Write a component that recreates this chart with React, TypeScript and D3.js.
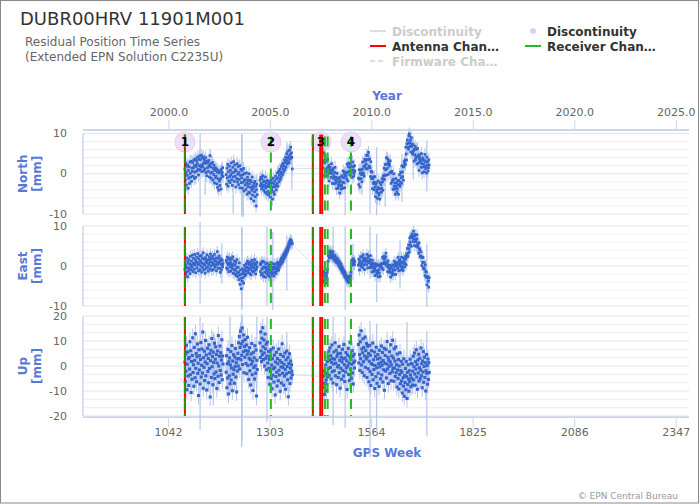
import * as d3 from 'd3'

const W = 700
const H = 504

// GPS week of the first value in each data block (blocks are weekly values)
const blockStart = [1084, 1190, 1277, 1439, 1530]

// North residuals [mm]
const north1 = [
  1.2, -1.5, 2.6, 0.3, -2.8, 1.9, -0.4, 2.2, -3.6, 0.8,
  -1.1, 1.7, -2.4, 2.9, 0.1, -0.8, 3.1, -1.9, 1.4, 0.6,
  2.8, -0.6, 1.5, 3.4, -1.2, 2.1, 0.4, 3.7, -0.9, 1.8,
  3.2, 0.7, 2.5, 4.1, 1.1, -0.3, 3.6, 2.0, 4.4, 0.9,
  3.5, 1.6, 4.6, 2.2, 0.5, 3.9, 1.8, 4.2, 2.6, 0.8,
  3.4, 1.2, 2.8, 4.0, 0.3, 2.6, -0.5, 3.1, 1.5, 2.9,
  0.6, 3.3, 1.9, -0.8, 2.4, 4.5, 0.2, 1.7, -1.1, 2.6,
  0.4, 2.8, -1.6, 1.3, -0.2, 2.1, -2.3, 0.8, 1.5, -1.0,
  -0.6, 1.2, -2.5, 0.4, -3.4, 0.9, -1.3, -4.1, 0.2, -1.8,
  -2.9, 0.6, -1.2, -3.8, 1.1, -0.4, 0.3, 1.5, -0.7,
]
const north2 = [
  -0.2, -2.6, 1.4, -1.0, 2.3, -3.1, 0.5, -1.8, 1.9, -0.7,
  -2.2, 0.9, -0.3, 2.7, -1.5, 0.2, -2.9, 1.6, -0.8, 3.0,
  0.4, -1.9, 2.2, -0.6, 1.0, -3.3, 0.7, -1.2, 2.5, -2.0,
  -0.1, 1.8, -2.7, 0.3, -1.4, 2.0, -3.5, -0.4, 1.1, -2.2,
  -1.0, 0.8, -3.6, -0.2, -2.1, 1.3, -4.3, -1.5, 0.1, -2.8,
  -1.6, -3.9, 0.2, -2.4, -5.1, -0.9, -3.2, -1.7, -4.6, 0.0,
  -2.5, -4.8, -1.6, -3.4, -6.2, -2.0, -4.1, -0.8, -5.3, -3.0,
  -3.6, -6.8, -2.4, -4.5, -1.9, -5.7, -3.1, -8.0, -4.0, -2.6,
  -5.2,
]
const north3 = [
  -1.6, -3.0, -0.9, -2.4, -3.7, -1.2, -2.8, -0.5, -3.3, -2.0,
  -4.1, -1.8, -2.9, -4.6, -0.8, -3.5, -2.2, -5.0, -3.1, -1.7,
  -4.4, -2.6, -5.3, -3.2, -1.9, -4.7, -2.4, -5.8, -3.0, -1.5,
  -4.0, -2.2, -6.3, -3.3, -1.1, -4.5, -2.5, -5.1, -1.8, -3.2,
  -0.6, -2.9, -4.0, -1.3, -2.4, 0.2, -3.1, -1.0, 0.6, -2.0,
  -0.3, 1.1, -1.5, 0.4, -0.9, 1.8, 0.0, 2.3, -0.2, 1.2,
  2.6, 0.5, 1.9, 3.4, 1.0, 2.8, 4.1, 1.6, 3.3, 5.0,
  2.4, 3.9, 5.6, 3.0, 4.4, 2.7, 5.9, 3.6, 4.8, 6.6,
  3.9, 5.2, 4.1, 1.2,
]
const north4 = [
  1.4, 3.3, 5.2, -0.5, 2.7, 4.6, 3.6, 0.4, 1.0, 3.1,
  1.3, -0.5, 3.6, 1.6, 0.1, 2.1, -1.8, 1.0, 1.6, 0.3,
  0.9, -0.9, 2.5, 0.0, -2.4, 0.8, 1.3, -1.1, -0.5, -2.5,
  0.3, 1.6, -1.6, -2.3, -0.9, -3.7, 0.1, -2.0, -1.3, -3.6,
  -2.9, -1.0, -2.3, -4.8, -1.7, -3.0, -0.8, -3.8, -2.9, -0.5,
  -2.1, -3.6, 0.7, -1.0, -2.2, 0.1, -3.5, -0.5, 0.4, -0.6,
  0.2, -1.3, 2.4, 0.2, -1.8, 1.8, 2.6, 0.6, 1.6, -0.3,
  2.5, 4.0, 0.9, 0.3, 1.8, -0.9, 2.9, 0.9, 1.7, -0.6,
  0.1, 2.0, 0.7,
]
const north5 = [
  -1.1, -2.7, 1.0, -1.3, -3.3, 0.1, 0.9, -1.2, -0.2, -2.0,
  1.1, 2.9, 0.2, -0.1, 1.8, -0.6, 3.6, 2.0, 3.2, 1.3,
  2.4, 4.6, 3.5, 1.2, 4.5, 3.5, 5.3, 1.7, 1.9, 3.7,
  1.5, -0.7, 3.0, 0.6, -1.2, 0.4, -3.7, -1.2, -0.8, -2.4,
  -2.1, -4.0, -0.7, -3.3, -5.7, -2.6, -2.2, -4.6, -4.0, -6.1,
  -3.4, -1.8, -4.8, -5.3, -3.7, -6.3, -2.2, -3.8, -2.7, -4.6,
  -3.6, -1.2, -2.0, -4.1, -0.5, -1.3, 1.4, -1.4, -0.3, 2.3,
  1.0, -0.4, 4.0, 2.4, 1.3, 3.7, -0.2, 2.6, 3.2, 1.9,
  2.4, 0.2, 3.2, 0.3, -2.4, 0.4, 0.6, -2.0, -1.6, -3.9,
  -1.4, 0.0, -3.1, -3.8, -2.3, -5.1, -1.2, -3.2, -2.3, -4.6,
  -3.8, -1.7, -2.7, -5.1, -1.7, -2.8, -0.2, -3.1, -2.1, 0.4,
  -1.0, -2.4, 2.0, 0.4, -0.7, 1.7, -1.6, 1.8, 3.0, 2.3,
  3.4, 2.4, 6.6, 4.9, 3.4, 7.4, 8.4, 6.5, 7.7, 6.1,
  9.4, 9.9, 7.6, 6.8, 8.3, 5.4, 9.0, 6.8, 7.4, 4.9,
  5.4, 7.2, 5.8, 3.1, 6.1, 4.7, 6.8, 3.5, 4.0, 6.1,
  4.2, 2.4, 6.3, 4.3, 2.7, 4.7, 0.8, 3.6, 4.2, 2.9,
  3.4, 1.6, 5.0, 2.5, 0.2, 3.4, 3.9, 1.7, 2.4, 0.5,
  3.3, 4.8, 1.8, 1.3, 2.9, 0.2, 4.1, 2.1, 3.0, 0.7,
  1.5, 3.5, 2.2,
]

// East residuals [mm]
const east1 = [
  -0.8, 1.4, -2.1, 0.3, -1.5, 2.0, -0.4, -2.7, 0.9, -1.2,
  1.6, -0.6, 0.5, -1.9, 2.4, 0.1, -1.0, 1.2, -0.3, 2.7,
  0.4, -1.4, 1.9, 0.7, -0.8, 2.9, 0.2, 1.5, -1.7, 0.9,
  2.2, -0.5, 1.0, 3.1, 0.3, -1.2, 1.8, 0.6, 2.5, -0.9,
  1.3, 0.0, 2.6, -1.5, 0.8, 1.9, -0.4, 3.3, 0.5, -1.0,
  1.7, 0.2, -1.8, 2.1, 0.9, -0.6, 1.4, 2.8, -0.2, 0.7,
  -1.3, 1.6, 0.4, 2.3, -0.7, 1.1, 3.0, 0.0, 1.8, -1.1,
  0.9, 2.4, 0.3, -0.9, 1.7, 0.6, 2.9, -0.3, 1.3, 0.2,
  2.0, -1.2, 1.0, 3.6, 0.4, -0.5, 1.9, 0.8, 2.5, -0.6,
  1.2, -1.6, 0.5, 1.8, -0.9, 0.3, 1.4, -0.2, 0.6,
]
const east2 = [
  1.4, -0.5, 0.9, 2.2, -0.8, 0.3, 1.7, -1.4, 0.6, 2.0,
  -0.2, 1.1, -1.3, 0.4, 1.8, -0.6, 0.0, 2.3, -1.8, 0.5,
  -0.9, 1.3, -2.0, 0.2, -1.1, 0.9, -2.4, -0.4, 1.6, -1.7,
  -2.6, -0.3, -1.5, -3.4, 0.8, -2.2, -4.6, -1.0, -3.1, -5.7,
  -2.0, -3.8, -0.7, -2.9, -1.4, -4.3, -1.9, 0.2, -2.5, -1.1,
  -0.4, -2.1, 0.6, -1.3, -0.2, 1.2, -1.6, -0.5, 0.7, -1.0,
  0.3, -1.9, 0.9, -0.6, -2.2, 0.1, 1.4, -1.2, 0.5, -0.3,
  -1.5, 0.8, -0.4, 1.6, -1.1, 0.2, -2.0, 0.6, -0.8, 1.0,
  -0.2,
]
const east3 = [
  0.6, -1.4, 0.3, -2.2, 0.9, -0.8, -1.9, 1.2, -0.5, -2.6,
  -0.2, 1.0, -1.6, -0.4, -2.8, 0.5, -1.1, -0.3, -2.0, 0.7,
  -1.5, -0.6, -2.4, 0.2, -1.0, -2.7, -0.1, -1.8, 0.8, -1.3,
  -0.4, -2.3, -0.9, 0.6, -1.7, -0.2, -2.5, -0.7, 0.4, -1.5,
  -0.3, -1.9, 0.5, -0.8, -1.2, 0.9, -0.5, 0.2, -1.0, 0.6,
  -0.2, 0.9, 0.3, 1.4, 0.5, 1.9, 0.8, 1.5, 2.2, 1.1,
  2.6, 1.8, 3.0, 2.1, 3.3, 2.5, 3.7, 2.9, 4.1, 3.4,
  4.5, 3.8, 5.0, 4.3, 5.6, 4.8, 6.1, 5.4, 6.6, 6.0,
  5.5, 6.3, 5.9, 5.6,
]
const east4 = [
  -2.2, -3.6, -1.4, -4.0, -2.8, -3.9, -1.9, -4.3, -3.0, -2.4,
  -3.3, -1.6, -0.8, 1.2, 2.6, 3.5, 2.0, 3.3, 2.4, 3.8,
  2.7, 3.4, 2.1, 3.0, 2.3, 3.6, 1.9, 2.8, 2.2, 1.4,
  2.6, 1.7, 2.3, 1.0, 2.0, 1.5, 0.8, 1.9, 1.2, 0.3,
  1.4, 0.6, -0.2, 1.0, 0.2, -0.6, 0.5, -0.9, -0.1, -1.3,
  -0.4, -1.7, -0.8, -1.9, -1.2, -2.4, -1.5, -2.8, -2.0, -3.1,
  -2.5, -3.6, -2.7, -3.2, -4.0, -2.9, -3.6, -2.6, -4.1, -3.0,
  -3.5, -2.4, -1.6, 0.6, 1.5, 0.2, 1.3, 0.4, 1.8, 0.7,
  1.4, 0.3, 1.1,
]
const east5 = [
  0.2, 1.7, 0.8, -1.0, 1.4, 0.6, 2.3, -0.1, 0.5, 2.2,
  0.9, -0.4, 2.8, 1.4, 0.3, 2.0, -0.9, 1.3, 1.9, 1.0,
  1.5, 0.3, 2.9, 1.2, -0.5, 2.1, 2.5, 0.8, 1.2, -0.4,
  1.6, 2.6, 0.2, -0.4, 0.7, -1.5, 1.4, -0.2, 0.4, -1.4,
  -0.9, 0.6, -0.5, -2.4, -0.1, -1.1, 0.5, -2.0, -1.6, 0.1,
  -1.3, -2.7, 0.3, -0.9, -1.8, 0.0, -2.6, -0.2, 0.5, -0.2,
  0.5, -0.6, 2.2, 0.6, -0.9, 1.8, 2.4, 0.9, 1.7, 0.5,
  2.3, 3.2, 0.7, 0.0, 0.9, -1.4, 1.3, -0.4, 0.2, -1.6,
  -1.2, 0.2, -0.8, -2.8, -0.5, -1.6, 0.0, -2.3, -1.6, 0.3,
  -0.9, -2.1, 1.2, -0.1, -1.0, 0.7, -2.1, 0.2, 0.9, 0.1,
  0.6, -0.6, 2.2, 0.5, -1.2, 1.2, 1.6, -0.1, 0.5, -1.0,
  1.1, 2.2, -0.1, -0.5, 0.9, -1.1, 2.0, 0.6, 1.4, -0.2,
  0.6, 2.4, 1.8, 0.3, 3.0, 2.4, 4.4, 2.4, 3.2, 5.2,
  4.3, 3.5, 7.0, 6.0, 5.3, 7.4, 4.9, 7.5, 8.0, 7.0,
  7.4, 6.1, 8.7, 6.8, 5.1, 7.6, 7.9, 6.1, 6.5, 4.9,
  6.8, 7.8, 5.3, 4.7, 5.7, 3.2, 5.8, 4.0, 4.3, 2.3,
  2.5, 3.6, 2.3, 0.1, 2.1, 0.9, 2.2, -0.6, -0.4, 0.9,
  -0.8, -2.4, 0.3, -1.4, -2.8, -1.5, -4.7, -2.9, -2.6, -3.8,
  -3.7, -5.3, -2.9,
]

// Up residuals [mm]
const up1 = [
  1.5, -6.2, 4.8, -2.1, 8.3, -9.5, 0.7, 5.6, -4.0, 2.9,
  -7.8, 3.4, -1.2, 9.7, -3.5, 6.1, -10.6, 1.8, -5.3, 4.2,
  11.3, -2.6, 0.5, -8.1, 7.4, 2.2, -4.7, 12.9, -0.9, 5.0,
  -6.3, 3.7, 8.8, -3.0, 1.1, -11.8, 6.5, -1.6, 4.1, -7.2,
  2.6, 9.4, -4.4, 0.3, 6.8, -2.8, 13.6, -8.9, 3.3, -0.5,
  5.9, -5.8, 1.6, 10.2, -3.9, 4.4, -9.6, 0.9, 7.1, -2.2,
  3.0, -6.7, 8.5, -1.0, 4.9, -12.4, 2.1, 6.3, -4.6, 11.0,
  -0.3, 3.8, -7.5, 5.5, 1.4, -3.2, 9.1, -5.0, 2.7, 7.7,
  -2.4, 4.6, -9.0, 1.2, 6.0, -4.1, 12.2, 0.0, -6.6, 3.9,
  8.0, -1.8, 5.3, -3.6, 2.4, 10.5, -5.5, 4.0, 0.8,
]
const up2 = [
  -2.5, 4.1, -8.7, 0.9, -4.8, 6.6, -11.2, 1.7, -3.9, 3.2,
  -7.1, 0.4, 5.8, -5.6, -0.8, 8.2, -9.9, 2.0, -3.3, 4.5,
  -1.5, -6.9, 3.6, -0.2, 7.0, -4.4, 1.3, -10.4, 2.8, -2.0,
  5.1, 0.0, 9.3, 3.0, 11.8, -1.2, 7.4, 13.9, 2.5, 8.8,
  4.3, 15.2, 0.6, 9.9, 5.7, 12.4, -2.7, 7.8, 3.5, 10.6,
  6.2, 1.0, 8.4, -3.1, 4.7, 11.5, 0.2, 5.9, -5.4, 3.1,
  7.3, -1.9, 2.6, -7.6, 4.8, 0.7, 9.0, -3.5, 1.9, -9.8,
  5.4, -0.6, 3.3, -5.2, 8.1, 0.1, -2.9, 6.4, -12.0, 2.3,
  -1.4,
]
const up3 = [
  9.2, 3.4, 13.6, 6.0, 1.8, 11.1, 4.5, 15.3, 7.7, 2.6,
  10.4, 5.2, 0.0, 12.8, 6.9, 3.1, 8.7, -1.5, 4.0, 9.6,
  1.2, -4.6, 5.8, -0.9, 2.7, -7.3, 3.9, -2.2, 6.5, -5.0,
  0.4, -9.1, 2.9, -3.7, 7.2, -1.1, -6.4, 4.3, -0.5, -11.6,
  1.6, -4.2, 5.5, -2.5, -8.0, 3.0, 0.9, -5.9, 6.8, -1.7,
  -3.6, 2.2, -10.1, 4.6, -0.3, -6.8, 1.4, 8.9, -2.9, -0.6,
  3.8, -7.7, 0.7, -4.0, 5.2, -1.4, -9.3, 2.5, -3.1, 6.0,
  -0.2, -5.5, 3.4, -12.3, 1.0, -2.6, 4.9, -7.0, -0.8, 2.0,
  -4.8, 0.5, -2.1, -3.5,
]
const up4 = [
  -4.2, -8.5, -2.0, -6.9, -11.4, -3.3, -7.1, 0.4, -5.6, -9.8,
  -2.9, 1.8, -4.4, 3.6, -1.0, 5.9, -3.7, 2.4, 7.2, -0.6,
  4.1, -5.2, 1.5, 8.4, -2.3, 3.0, -6.8, 0.8, 5.6, -1.9,
  2.7, 9.3, -3.9, 1.1, 6.3, -7.5, 3.8, -0.4, 4.9, -4.6,
  0.2, 7.8, -2.7, 2.3, -8.9, 5.1, -0.9, 3.5, -5.3, 1.6,
  6.7, -1.8, 2.9, -4.0, 8.6, 0.5, -6.2, 3.2, -2.4, 5.4,
  -0.7, 2.1, -9.4, 4.4, 0.0, 7.0, -3.4, 1.2, -5.8, 3.7,
  9.5, -1.3, 2.6, -4.9, 0.7, 6.1, -2.8, 3.9, -7.2, 1.4,
  4.7, -0.8, 2.0,
]
const up5 = [
  8.6, 1.2, 12.4, 4.5, -1.8, 9.7, 2.9, 14.1, 0.4, 6.8,
  -2.6, 5.3, 10.9, 1.7, 7.4, -3.9, 4.0, 11.6, -0.5, 6.2,
  2.8, 9.0, -4.6, 3.6, 7.9, -1.1, 5.0, -6.3, 1.9, 8.3,
  -2.2, 4.3, -7.8, 1.0, 6.1, -3.4, 0.6, 9.2, -5.5, 2.5,
  -1.4, 5.6, -9.0, 0.2, 3.9, -4.3, 7.5, -0.7, -6.9, 2.8,
  4.6, -2.9, 0.9, -8.2, 6.3, -0.4, 3.2, -5.1, 1.5, 8.0,
  -3.6, 0.3, 5.4, -6.4, 2.2, -1.5, 7.1, -9.7, 1.1, 4.2,
  -2.0, 6.6, -4.8, 0.8, 9.8, -1.2, 3.5, -7.0, 2.4, -0.1,
  5.7, -3.0, 1.6, 8.5, -5.9, 0.4, 4.0, -2.3, 10.3, -1.0,
  3.2, -6.1, 6.9, -0.8, 2.0, -4.2, 7.6, -2.7, 0.5, -8.4,
  4.8, -1.6, -5.0, 2.6, -9.2, 0.0, -3.4, 5.3, -7.1, -1.9,
  1.9, -6.0, -2.5, -10.8, 0.7, -4.7, -8.0, 2.9, -12.1, -3.8,
  -6.6, -1.0, -9.5, 1.8, -4.3, -13.0, -2.6, -7.4, 0.5, -5.2,
  -10.1, -1.9, -6.2, 2.7, -3.6, -8.3, 1.0, -4.9, 0.8, -7.6,
  -2.1, 3.9, -5.6, -0.3, 5.2, -3.2, -7.7, 1.7, -1.2, 6.5,
  -4.4, 0.6, -9.3, 2.4, -2.8, 4.7, -6.0, -0.7, 3.1, -5.1,
  -1.6, 7.2, -3.9, 0.9, -8.7, 2.0, -2.4, 5.8, -6.5, -0.2,
  3.5, -4.6, 1.3, -10.0, -1.9, 4.6, -3.0, 0.2, -7.3, 2.8,
  -5.4, 1.4, -2.6,
]

// typical formal error of a weekly value [mm]: North, East, Up
const pointSigma = [1.6, 1.4, 3.6]

// large error bars [gps week, low, high] in mm
const northBars = [
  [1123, -10.6, 9.9], [1136, -5.2, -1.0], [1149, -2.3, 6.1], [1208, -9.9, 2.4],
  [1230, -10.7, 10], [1231, -10.2, 9.6], [1234, -10.7, -3.6], [1269, -8.6, -0.2],
  [1346, 1.6, 7.8], [1359, -4.0, 3.2], [1496, -10.3, -0.2], [1539, -5.3, 3.2],
  [1560, -9.9, -1.0], [1577, -10.3, 6.6], [1599, -8.2, 0.7], [1642, -7.0, 4.9],
  [1671, -1.4, 9.5], [1706, -4.4, 8.3],
]
const eastBars = [
  [1123, -9.4, 11], [1179, -4.4, 5.6], [1230, -11, 9.8], [1231, -10.5, 9.5],
  [1295, -9.8, 9.8], [1310, -11, 8.5], [1346, -6.1, 7.7], [1465, 1.8, 9.8],
  [1496, -11, 9.8], [1516, -3.6, 5.6], [1560, -3.2, 9.8], [1577, -9, 8],
  [1637, -5.7, 6.4], [1706, -10.2, 5.6],
]
const upBars = [
  [1123, -25.6, 19.6], [1157, -15.7, 13.6], [1200, -11.6, 19.6], [1230, -32.4, 21],
  [1231, -30, 20], [1269, -9, 19.6], [1295, -22.4, 19.6], [1346, -7.7, 13.6],
  [1465, -23.6, 19.6], [1496, -24.8, 19.6], [1560, -36.4, 18], [1577, -26.8, 17],
  [1655, -11.7, 17.6], [1706, -28, 14],
]

// station events (gps week)
const discontinuityWeeks = [1084, 1305, 1434, 1511]
const antennaWeeks = [1084, 1413, 1432, 1437]
const receiverWeeks = [1084, 1305, 1413, 1444, 1451, 1511]

const gpsWeekTicks = [1042, 1303, 1564, 1825, 2086, 2347]
const yearTicks = [2000, 2005, 2010, 2015, 2020, 2025]

const legendItems = [
  { label: 'Discontinuity', kind: 'line', color: '#dddddd', dash: '', hidden: true },
  { label: 'Discontinuity', kind: 'dot', color: '#e2cdf5', dash: '', hidden: false },
  { label: 'Antenna Chan…', kind: 'line', color: '#ff0000', dash: '', hidden: false },
  { label: 'Receiver Chan…', kind: 'line', color: '#22bb22', dash: '', hidden: false },
  { label: 'Firmware Cha…', kind: 'line', color: '#dddddd', dash: '5 3', hidden: true },
]

type Pt = { w: number; v: number }

const toPoints = (blocks: number[][]): Pt[] =>
  blocks.flatMap((vals, b) => vals.map((v, i) => ({ w: blockStart[b] + i, v })))

const panels = [
  { title: 'North', blocks: [north1, north2, north3, north4, north5], bars: northBars,
    domain: [-10, 10], top: 133.5, bottom: 214, ticks: [-10, 0, 10], minor: 2, dot: 2.7 },
  { title: 'East', blocks: [east1, east2, east3, east4, east5], bars: eastBars,
    domain: [-10, 10], top: 226, bottom: 306, ticks: [-10, 0, 10], minor: 2, dot: 2.7 },
  { title: 'Up', blocks: [up1, up2, up3, up4, up5], bars: upBars,
    domain: [-20, 20], top: 316, bottom: 416, ticks: [-20, -10, 0, 10, 20], minor: 10 / 3, dot: 3.1 },
]

const FONT = 'DejaVu Sans, Verdana, sans-serif'
const AXIS_BLUE = '#5878d8'
const PT_COLOR = '#3465cc'
const BAR_COLOR = '#b4c5ec'

export default function App() {
  const x = d3.scaleLinear().domain([822, 2380]).range([83, 689])
  const yearToWeek = (yr: number) => 1042.857 + (yr - 2000) * 52.1775
  const plotL = 83
  const plotR = 689

  return (
    <svg width={W} height={H} style={{ position: 'absolute', left: 0, top: 0 }} fontFamily={FONT}>
      <rect x={0.5} y={0.5} width={698} height={502.5} fill="#fff" stroke="#888" />

      {/* titles */}
      <text x={20} y={25} fontSize={18} fill="#333">DUBR00HRV 11901M001</text>
      <text x={25} y={46} fontSize={12} fill="#666">Residual Position Time Series</text>
      <text x={25} y={61} fontSize={12} fill="#666">(Extended EPN Solution C2235U)</text>

      {/* legend */}
      {legendItems.map((it, i) => {
        const col = i % 2 === 0 ? 0 : 1
        const row = Math.floor(i / 2)
        const lx = col === 0 ? 370 : 525
        const ly = 31 + row * 15
        return (
          <g key={i}>
            {it.kind === 'line' ? (
              <line x1={lx} x2={lx + 16} y1={ly} y2={ly} stroke={it.color} strokeWidth={2} strokeDasharray={it.dash} />
            ) : (
              <circle cx={lx + 8} cy={ly} r={3} fill={it.color} />
            )}
            <text x={lx + 22} y={ly + 4.5} fontSize={12} fontWeight="bold" fill={it.hidden ? '#cccccc' : '#333333'}>
              {it.label}
            </text>
          </g>
        )
      })}

      {/* top year axis */}
      <text x={387} y={100} fontSize={12} fontWeight="bold" fill={AXIS_BLUE} textAnchor="middle">Year</text>
      <line x1={plotL} x2={plotR} y1={130} y2={130} stroke="#ccd6eb" strokeWidth={2} />
      {yearTicks.map(yr => {
        const tx = x(yearToWeek(yr))
        return (
          <g key={yr}>
            <line x1={tx} x2={tx} y1={120} y2={130} stroke="#ccd6eb" />
            <text x={tx} y={116} fontSize={11} fill="#666" textAnchor="middle">{yr.toFixed(1)}</text>
          </g>
        )
      })}

      {/* bottom gps week axis */}
      <line x1={plotL} x2={plotR} y1={417} y2={417} stroke="#ccd6eb" strokeWidth={2} />
      {gpsWeekTicks.map(wk => (
        <g key={wk}>
          <line x1={x(wk)} x2={x(wk)} y1={417} y2={427} stroke="#ccd6eb" />
          <text x={x(wk)} y={436} fontSize={11} fill="#666" textAnchor="middle">{wk}</text>
        </g>
      ))}
      <text x={387} y={457} fontSize={12} fontWeight="bold" fill={AXIS_BLUE} textAnchor="middle">GPS Week</text>

      {panels.map((p, pi) => {
        const y = d3.scaleLinear().domain(p.domain).range([p.bottom, p.top])
        const pts = toPoints(p.blocks)
        const line = d3.line<Pt>().x(d => x(d.w)).y(d => y(d.v))
        const grid = d3.range(0, Math.round((p.domain[1] - p.domain[0]) / p.minor) + 1).map(k => p.domain[0] + k * p.minor)
        const sig = pointSigma[pi]
        const cy = (p.top + p.bottom) / 2
        const h = p.dot / 2
        return (
          <g key={p.title}>
            {grid.map((g, gi) => (
              <line key={gi} x1={plotL} x2={plotR} y1={y(g)} y2={y(g)}
                stroke={p.ticks.some(t => Math.abs(t - g) < 1e-6) ? '#e3e3e3' : '#efefef'} />
            ))}
            <line x1={plotL} x2={plotL} y1={p.top} y2={p.bottom} stroke="#ccd6eb" strokeWidth={1.5} />
            {p.ticks.map(t => (
              <text key={t} x={67} y={y(t) + 3.5} fontSize={11} fill="#666" textAnchor="end">{t}</text>
            ))}
            <g transform={`translate(0,${cy}) rotate(-90)`}>
              <text x={0} y={27} fontSize={12} fontWeight="bold" fill={AXIS_BLUE} textAnchor="middle">{p.title}</text>
              <text x={0} y={41} fontSize={12} fontWeight="bold" fill={AXIS_BLUE} textAnchor="middle">[mm]</text>
            </g>

            {pi === 0 && discontinuityWeeks.map(wk => (
              <circle key={wk} cx={x(wk)} cy={142} r={10} fill="#eedff9" stroke="#e2cdf5" />
            ))}

            {/* series */}
            <path d={line(pts) ?? ''} fill="none" stroke="#cbd7f3" strokeWidth={0.8} />
            {pts.map((d, i) => (
              <line key={'e' + i} x1={x(d.w)} x2={x(d.w)} y1={y(d.v - sig)} y2={y(d.v + sig)} stroke={BAR_COLOR} strokeWidth={1} />
            ))}
            {p.bars.map((b, i) => (
              <line key={'b' + i} x1={x(b[0])} x2={x(b[0])} y1={y(b[1])} y2={y(b[2])} stroke={BAR_COLOR} strokeWidth={1.2} />
            ))}
            {pts.map((d, i) => (
              <rect key={'p' + i} x={x(d.w) - h} y={y(d.v) - h} width={p.dot} height={p.dot} fill={PT_COLOR} />
            ))}

            {/* equipment changes */}
            {antennaWeeks.map(wk => (
              <line key={'a' + wk} x1={x(wk)} x2={x(wk)} y1={p.top + 1} y2={p.bottom} stroke="#ff0000" strokeWidth={2} />
            ))}
            {receiverWeeks.map(wk => {
              const both = antennaWeeks.includes(wk)
              return (
                <line key={'r' + wk} x1={x(wk)} x2={x(wk)} y1={p.top + (both ? 1 : 3)} y2={p.bottom}
                  stroke={both ? '#3a8a10' : '#22bb22'} strokeWidth={2} strokeDasharray={both ? '13 3' : '10 6'} />
              )
            })}

            {pi === 0 && discontinuityWeeks.map((wk, i) => (
              <text key={'n' + wk} x={x(wk)} y={146} fontSize={12} fontWeight="bold" fill="#000" textAnchor="middle">{i + 1}</text>
            ))}
          </g>
        )
      })}

      <text x={678} y={499} fontSize={9} fill="#999" textAnchor="end">© EPN Central Bureau</text>
    </svg>
  )
}
